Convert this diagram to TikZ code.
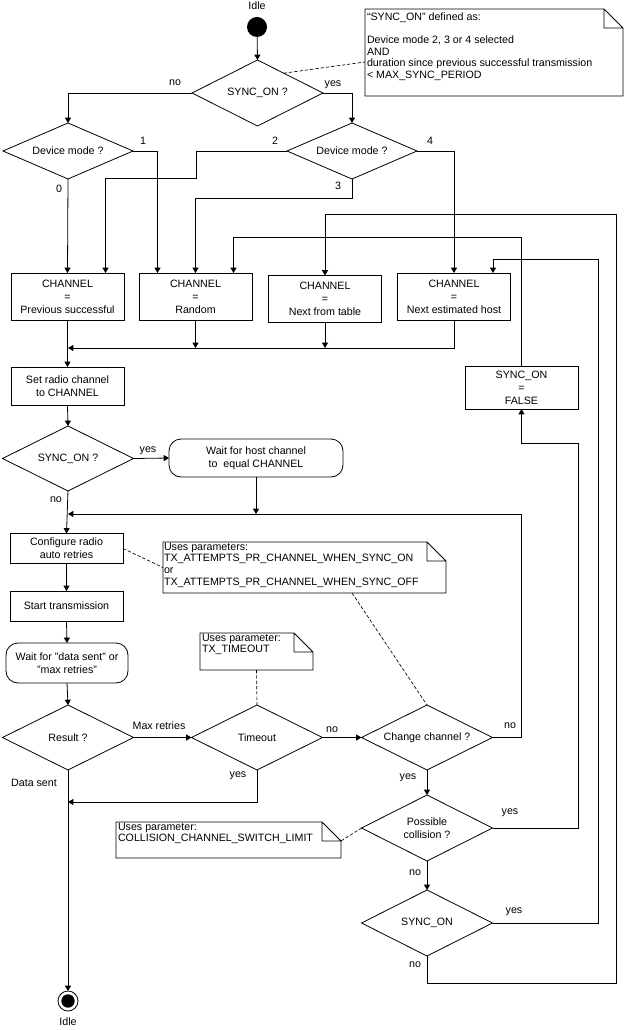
\documentclass[tikz,border=0pt]{standalone}
\usepackage{fontspec}
\setmainfont{Liberation Sans}
\usetikzlibrary{shapes.geometric, arrows.meta, calc}

\tikzset{
  every node/.style={font=\fontsize{8}{9.7}\selectfont, inner sep=0pt, outer sep=0pt},
  box/.style={draw, align=center, minimum width=84.75pt, minimum height=35.25pt},
  decide/.style={draw, diamond, aspect=2, align=center, minimum width=98.25pt, minimum height=48.75pt},
  waitbox/.style={draw, rounded corners=9pt, align=center},
  memo/.style={align=left, anchor=north west, font=\fontsize{8}{8.7}\selectfont},
  flow/.style={-{Triangle[length=4pt, width=4.5pt]}},
  link/.style={dash pattern=on 2.5pt off 1.5pt, line width=0.5pt}
}

\begin{document}
\begin{tikzpicture}[x=0.75pt, y=-0.75pt, line width=0.6pt]
  \useasboundingbox (0,0) rectangle (624,1030);

  \node (idle1) at (257,6) {Idle};
  \node[circle, fill, minimum size=15pt] (start) at (257,27) {};
  \node[decide, minimum height=49.5pt] (sync1) at (257.5,93) {SYNC\_ON ?};
  \node[decide, minimum width=97.5pt, minimum height=42pt] (mode1) at (68,151) {Device mode ?};
  \node[decide, minimum width=97.5pt, minimum height=42pt] (mode2) at (352,151) {Device mode ?};

  \node[box] (prev) at (67.5,296.5) {CHANNEL\\=\\Previous successful};
  \node[box] (rand) at (195.5,296.5) {CHANNEL\\=\\Random};
  \node[box] (table) at (325,299) {CHANNEL\\=\\Next from table};
  \node[box] (host) at (454,296.5) {CHANNEL\\=\\Next estimated host};
  \node[box, minimum height=28.5pt] (setch) at (67.5,386) {Set radio channel\\to CHANNEL};
  \node[box, minimum height=32.25pt] (nosync) at (521.5,387.5) {SYNC\_ON\\=\\FALSE};

  \node[decide] (sync2) at (68,458.5) {SYNC\_ON ?};
  \node[waitbox, minimum width=130.5pt, minimum height=28.5pt] (waithost) at (256,458) {Wait for host channel\\to~ equal CHANNEL};
  \node[box, minimum height=22.5pt] (config) at (66.5,548.5) {Configure radio\\auto retries};
  \node[box, minimum height=22.5pt] (sendtx) at (66.5,606) {Start transmission};
  \node[waitbox, minimum width=91.5pt, minimum height=30pt] (waitsent) at (67,663) {Wait for "data sent" or\\"max retries"};

  \node[decide] (result) at (68,737.5) {Result ?};
  \node[decide] (timeout) at (257,737.5) {Timeout};
  \node[decide] (change) at (427,737.5) {Change channel ?};
  \node[decide, minimum height=49.5pt] (collision) at (427,828) {Possible\\collision ?};
  \node[decide, minimum height=49.5pt] (sync3) at (427,923) {SYNC\_ON};
  \node[circle, draw, minimum size=15pt] (stop) at (68,1001) {};
  \fill (stop.center) circle (5pt);
  \node (idle2) at (68,1022) {Idle};

  \node[minimum width=193.5pt, minimum height=65.25pt] (note1) at (494,52.5) {};
  \node[minimum width=212.25pt, minimum height=38.25pt] (note2) at (304.5,567.5) {};
  \node[minimum width=84.75pt, minimum height=27.75pt] (note3) at (256.5,651.5) {};
  \node[minimum width=168.75pt, minimum height=27pt] (note4) at (228.5,840) {};
  \foreach \n in {note1, note2, note3, note4}
    \draw (\n.north west) -- ($(\n.north east)+(-19,0)$) -- ($(\n.north east)+(0,19)$)
      -- (\n.south east) -- (\n.south west) -- cycle
      ($(\n.north east)+(-19,0)$) |- ($(\n.north east)+(0,19)$);
  \node[memo, font=\fontsize{8}{8.6}\selectfont] (text1) at ($(note1.north west)+(2,4)$) {“SYNC\_ON” defined as:\\[8.6pt]Device mode 2, 3 or 4 selected\\AND\\duration since previous successful transmission\\< MAX\_SYNC\_PERIOD};
  \node[memo] (text2) at ($(note2.north west)+(1,1)$) {Uses parameters:\\TX\_ATTEMPTS\_PR\_CHANNEL\_WHEN\_SYNC\_ON\\or\\TX\_ATTEMPTS\_PR\_CHANNEL\_WHEN\_SYNC\_OFF};
  \node[memo] (text3) at ($(note3.north west)+(2,1)$) {Uses parameter:\\TX\_TIMEOUT};
  \node[memo] (text4) at ($(note4.north west)+(2,1)$) {Uses parameter:\\COLLISION\_CHANNEL\_SWITCH\_LIMIT};

  \foreach \t/\p [count=\i] in {no/{175,83}, yes/{333,85}, 1/{143,141}, 0/{59,189}, 2/{275,141},
      4/{430,141}, 3/{338,186}, yes/{148,451}, no/{56,500}, Max retries/{159,726}, no/{332,730},
      no/{510,726}, yes/{238,776}, Data sent/{34,783}, yes/{408,778}, yes/{510,813}, no/{415,873},
      yes/{514,912}, no/{415,965}}
    \node (lab\i) at (\p) {\t};

  \coordinate (join1) at (68,348);
  \coordinate (join2) at (68,514);
  \coordinate (join3) at (68,802);

  \draw[flow] (start) -- (sync1.north);
  \draw[flow] (sync1.west) -| (mode1.north);
  \draw[flow] (sync1.east) -| (mode2.north);
  \draw[flow] (mode1.east) -| ($(rand.north)+(-38,0)$);
  \draw[flow] (mode1.south) -- (prev.north);
  \draw[flow] (mode2.west) -| (196,178) -| ($(prev.north)+(38,0)$);
  \draw[flow] (mode2.south) -- ++(0,19) -| (rand.north);
  \draw[flow] (mode2.east) -| (host.north);
  \draw[flow] (prev.south) -- (setch.north);
  \draw[flow] (rand.south) -- (rand.south |- join1);
  \draw[flow] (table.south) -- (table.south |- join1);
  \draw[flow] (host.south) |- (join1);
  \draw[flow] (setch.south) -- (sync2.north);
  \draw[flow] (sync2.east) -- (waithost.west);
  \draw[flow] (sync2.south) -- (config.north);
  \draw[flow] (waithost.south) -- (waithost.south |- join2);
  \draw[flow] (change.east) -- ++(29,0) |- (join2);
  \draw[flow] (config.south) -- (sendtx.north);
  \draw[flow] (sendtx.south) -- (waitsent.north);
  \draw[flow] (waitsent.south) -- (result.north);
  \draw[flow] (result.east) -- (timeout.west);
  \draw[flow] (timeout.east) -- (change.west);
  \draw[flow] (timeout.south) |- (join3);
  \draw[flow] (result.south) -- (stop.north);
  \draw[flow] (change.south) -- (collision.north);
  \draw[flow] (collision.south) -- (sync3.north);
  \draw[flow] (collision.east) -| (578,443) -| (nosync.south);
  \draw[flow] (nosync.north) -- ++(0,-129) -| ($(rand.north)+(38,0)$);
  \draw[flow] (sync3.east) -| (598,259) -| ($(host.north)+(39,0)$);
  \draw[flow] (sync3.south) -- ++(0,27) -| (616,214) -| (table.north);

  \draw[link] ($(sync1.north)!0.4!(sync1.east)$) -- ($(note1.north west)+(0,53)$);
  \draw[link] (config.east) -- (note2.west);
  \draw[link] ($(note2.south west)+(189,0)$) -- (change.north);
  \draw[link] (note3.south) -- (timeout.north);
  \draw[link] ($(note4.north east)+(0,19)$) -- (collision.west);
\end{tikzpicture}
\end{document}
